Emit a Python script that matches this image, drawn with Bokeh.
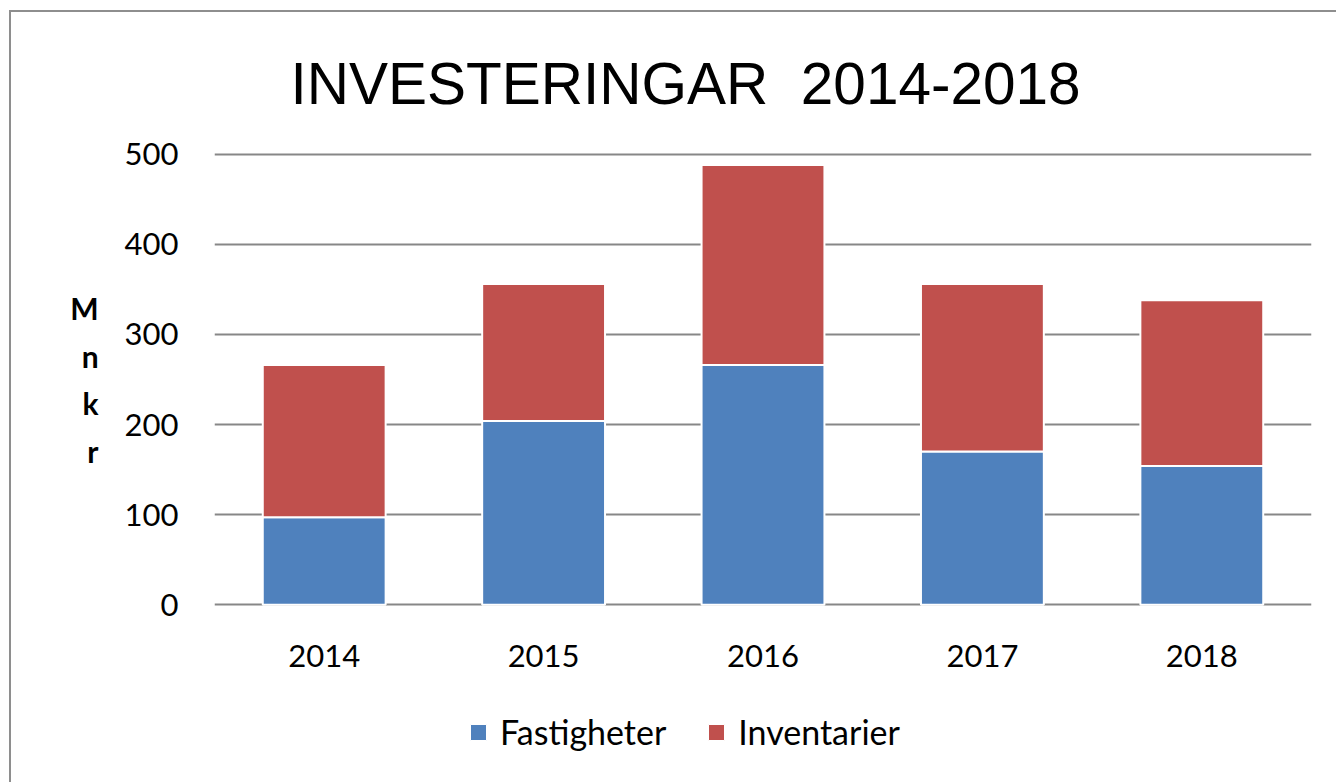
from bokeh.plotting import figure
from bokeh.layouts import column
from bokeh.models import Legend, LegendItem, ColumnDataSource, FixedTicker, Range1d, FactorRange
from bokeh.embed import file_html
from bokeh.resources import INLINE

years = ["2014", "2015", "2016", "2017", "2018"]
fastigheter = [97, 204, 266, 170, 154]
inventarier = [169, 152, 222, 186, 184]
series = ["Fastigheter", "Inventarier"]
colors = ["#4F81BD", "#C0504D"]
y_ticks = [0, 100, 200, 300, 400, 500]
title_text = "INVESTERINGAR \u00a02014-2018"
y_label = "M\nn\nk\nr"

src = ColumnDataSource(dict(years=years, Fastigheter=fastigheter, Inventarier=inventarier))

# main chart
p = figure(width=1325, height=688, x_range=FactorRange(*years), y_range=Range1d(-2, 502),
           output_backend="svg", toolbar_location=None,
           min_border_left=203, min_border_right=25, min_border_top=140, min_border_bottom=94)
p.outline_line_color = None
p.background_fill_color = "white"
p.border_fill_color = "white"

rs = p.vbar_stack(series, x="years", width=0.56, source=src, color=colors,
                  line_color="white", line_width=2)

p.title.text = title_text
p.title.text_font = "Liberation Sans"
p.title.text_font_size = "58.5px"
p.title.text_font_style = "normal"
p.title.text_color = "black"
p.title.align = "left"
p.title.offset = 76
p.title.standoff = 73

p.xgrid.grid_line_color = None
p.ygrid.grid_line_color = "#878787"
p.ygrid.grid_line_width = 2
p.yaxis.ticker = FixedTicker(ticks=y_ticks)
p.yaxis.axis_line_color = None
p.yaxis.major_tick_line_color = None
p.yaxis.minor_tick_line_color = None
p.yaxis.major_tick_out = 0
p.yaxis.major_label_standoff = 36
p.yaxis.major_label_text_font = "Lato"
p.yaxis.major_label_text_font_size = "31px"
p.yaxis.major_label_text_color = "black"
p.yaxis.axis_label = y_label
p.yaxis.axis_label_orientation = "horizontal"
p.yaxis.axis_label_text_font = "Lato"
p.yaxis.axis_label_text_font_size = "30px"
p.yaxis.axis_label_text_font_style = "bold"
p.yaxis.axis_label_text_line_height = 1.33
p.yaxis.axis_label_standoff = 23
p.yaxis.axis_label_text_color = "black"

p.xaxis.axis_line_color = None
p.xaxis.major_tick_line_color = None
p.xaxis.major_tick_out = 0
p.xaxis.major_label_standoff = 38
p.xaxis.major_label_text_font = "Lato"
p.xaxis.major_label_text_font_size = "31px"
p.xaxis.major_label_text_color = "black"

# legend strip (its own bars sit outside its visible range)
pl = figure(width=1325, height=82, x_range=FactorRange(*years), y_range=Range1d(1000, 1100),
            output_backend="svg", toolbar_location=None,
            x_axis_location=None, y_axis_location=None,
            min_border_left=0, min_border_right=0, min_border_top=0, min_border_bottom=0)
pl.outline_line_color = None
pl.grid.grid_line_color = None
pl.border_fill_color = "white"
rl = pl.vbar_stack(series, x="years", width=0.56, source=src, color=colors,
                   line_color="white", line_width=1)
legend = Legend(items=[LegendItem(label=s, renderers=[r]) for s, r in zip(series, rl)],
                location=(254, 30), orientation="horizontal",
                label_text_font="Lato", label_text_font_size="34px", label_text_color="black",
                glyph_width=20, glyph_height=20, label_standoff=12, spacing=40,
                padding=0, margin=0, border_line_color=None, background_fill_alpha=0)
pl.add_layout(legend, "center")

layout = column(p, pl, spacing=0,
                styles={"margin-left": "9px", "margin-top": "10px",
                        "border-left": "2px solid #8e8e8e", "border-top": "2px solid #8e8e8e"})

open("out.html", "w").write(file_html(layout, INLINE))
